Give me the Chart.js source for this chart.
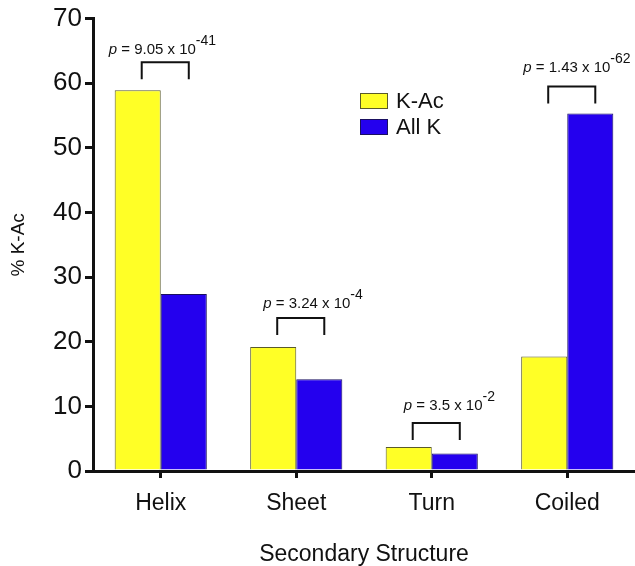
<!DOCTYPE html>
<html>
<head>
<meta charset="utf-8">
<script src="https://cdn.jsdelivr.net/npm/chart.js@4.4.0/dist/chart.umd.min.js"></script>
<style>
  html, body { margin: 0; padding: 0; background: #fff; }
  #wrap { width: 635px; height: 566px; }
</style>
</head>
<body>
<div id="wrap"><canvas id="myChart" width="635" height="566"></canvas></div>
<script>
const categories = ['Helix', 'Sheet', 'Turn', 'Coiled'];
const kAc = [58.9, 19.2, 3.7, 17.7];
const allK = [27.4, 14.2, 2.7, 55.3];
const pMantissa = ['9.05', '3.24', '3.5', '1.43'];
const pExponent = ['-41', '-4', '-2', '-62'];
const yTicks = [0, 10, 20, 30, 40, 50, 60, 70];

const FONT = "'Liberation Sans', Arial, Helvetica, sans-serif";

// gap above taller bar, text shift from bracket left, text lift above bracket
const bracketGap = [11, 12, 7, 10];
const textShift = [-33, -14, -9, -25];
const textLift = [8, 10, 13, 15];

const annotations = {
    id: 'annotations',
    afterDatasetsDraw(chart) {
        const ctx = chart.ctx;
        const m0 = chart.getDatasetMeta(0).data;
        const m1 = chart.getDatasetMeta(1).data;
        ctx.save();
        ctx.strokeStyle = '#111';
        ctx.lineWidth = 2;
        ctx.fillStyle = '#111';
        for (let i = 0; i < categories.length; i++) {
            const left = m0[i].x + 4;
            const right = m1[i].x + 5;
            const bottom = Math.min(m0[i].y, m1[i].y) - bracketGap[i];
            const top = bottom - 17;
            ctx.beginPath();
            ctx.moveTo(left, bottom);
            ctx.lineTo(left, top);
            ctx.lineTo(right, top);
            ctx.lineTo(right, bottom);
            ctx.stroke();

            let x = left + textShift[i];
            const y = top - textLift[i];
            ctx.textBaseline = 'alphabetic';
            ctx.textAlign = 'left';
            ctx.font = 'italic 15px ' + FONT;
            ctx.fillText('p', x, y);
            x += ctx.measureText('p').width;
            ctx.font = '15px ' + FONT;
            const main = ' = ' + pMantissa[i] + ' x 10';
            ctx.fillText(main, x, y);
            x += ctx.measureText(main).width;
            ctx.font = '14px ' + FONT;
            ctx.fillText(pExponent[i], x, y - 9);
        }

        // legend
        const items = chart.data.datasets;
        items.forEach((ds, k) => {
            const bx = 360, by = 93 + k * 26;
            ctx.fillStyle = ds.backgroundColor;
            ctx.fillRect(bx, by, 28, 16);
            ctx.lineWidth = 1;
            ctx.strokeStyle = ds.borderColor;
            ctx.strokeRect(bx + 0.5, by + 0.5, 27, 15);
            ctx.fillStyle = '#111';
            ctx.font = '22px ' + FONT;
            ctx.textBaseline = 'middle';
            ctx.fillText(ds.label, bx + 36, by + 9);
        });
        ctx.restore();
    }
};

const ctx = document.getElementById('myChart').getContext('2d');
const myChart = new Chart(ctx, {
    type: 'bar',
    data: {
        labels: categories,
        datasets: [{
            label: 'K-Ac',
            data: kAc,
            backgroundColor: '#FFFF26',
            borderColor: '#5a5a2a',
            borderWidth: 1
        }, {
            label: 'All K',
            data: allK,
            backgroundColor: '#2400EE',
            borderColor: '#1a1060',
            borderWidth: 1
        }]
    },
    options: {
        responsive: false,
        animation: false,
        layout: { padding: { top: 17, right: 0, bottom: 0, left: 0 } },
        datasets: { bar: { categoryPercentage: 0.68, barPercentage: 1 } },
        plugins: {
            legend: { display: false },
            tooltip: { enabled: false }
        },
        scales: {
            x: {
                offset: true,
                grid: { display: true, drawOnChartArea: false, offset: false, tickLength: 7, color: '#111', lineWidth: 3 },
                border: { display: true, color: '#111', width: 3 },
                ticks: { color: '#111', font: { family: FONT, size: 23 }, padding: 12, maxRotation: 0 },
                title: {
                    display: true,
                    text: 'Secondary Structure',
                    color: '#111',
                    font: { family: FONT, size: 23 },
                    padding: { top: 0, bottom: -2 }
                },
                afterFit(scale) { scale.height = 95; }
            },
            y: {
                min: 0,
                max: 70,
                afterBuildTicks(scale) { scale.ticks = yTicks.map(v => ({ value: v })); },
                grid: { display: true, drawOnChartArea: false, tickLength: 8, color: '#111', lineWidth: 3 },
                border: { display: true, color: '#111', width: 3 },
                ticks: { color: '#111', font: { family: FONT, size: 26 }, padding: 3 },
                title: {
                    display: true,
                    text: '% K-Ac',
                    color: '#111',
                    font: { family: FONT, size: 19 },
                    padding: { top: 7, bottom: 0 }
                },
                afterFit(scale) { scale.width = 93; }
            }
        }
    },
    plugins: [annotations]
});
</script>
</body>
</html>
